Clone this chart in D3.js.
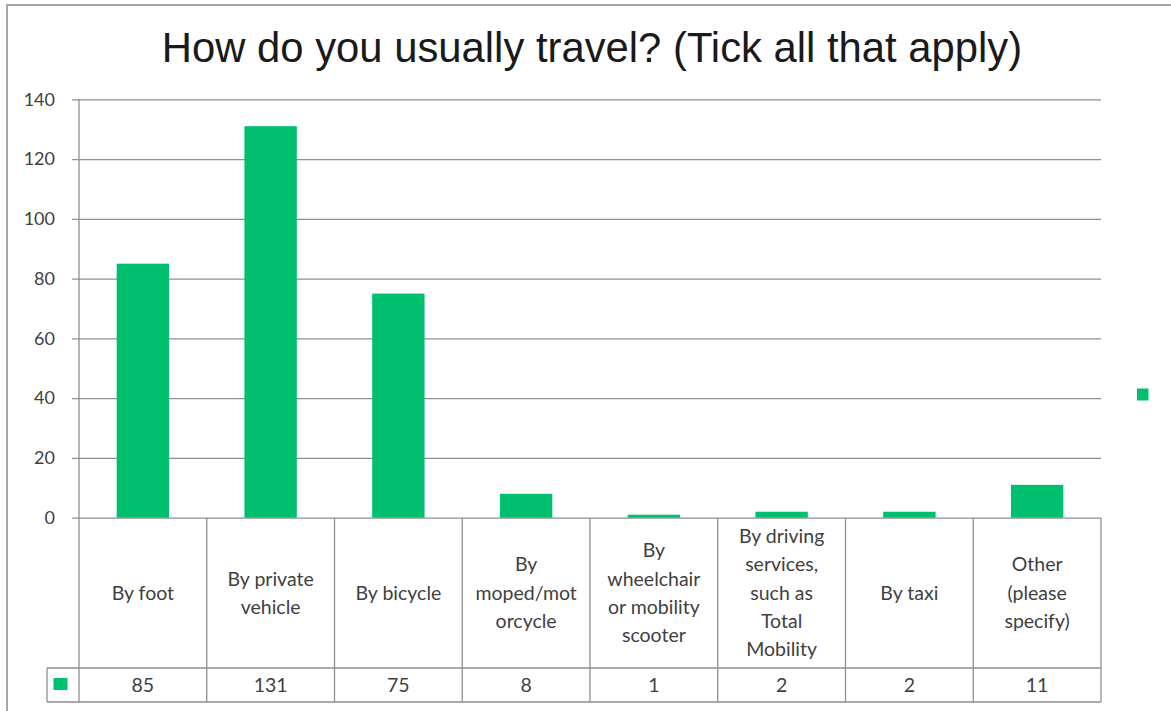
<!DOCTYPE html>
<html>
<head>
<meta charset="utf-8">
<script src="https://cdn.jsdelivr.net/npm/d3@7"></script>
<style>
  html, body { margin: 0; padding: 0; background: #fff; }
  svg { display: block; }
</style>
</head>
<body>
<svg id="chart" width="1171" height="711"></svg>
<script>
// Survey responses: how people usually travel (multiple answers allowed)
const title = "How do you usually travel? (Tick all that apply)";
const categories = [
  "By foot",
  "By private vehicle",
  "By bicycle",
  "By moped/motorcycle",
  "By wheelchair or mobility scooter",
  "By driving services, such as Total Mobility",
  "By taxi",
  "Other (please specify)"
];
// Wrapped label lines as shown in the data table
const categoryLines = [
  ["By foot"],
  ["By private", "vehicle"],
  ["By bicycle"],
  ["By", "moped/mot", "orcycle"],
  ["By", "wheelchair", "or mobility", "scooter"],
  ["By driving", "services,", "such as", "Total", "Mobility"],
  ["By taxi"],
  ["Other", "(please", "specify)"]
];
const responses = [85, 131, 75, 8, 1, 2, 2, 11];
const yTicks = [0, 20, 40, 60, 80, 100, 120, 140];

const svg = d3.select("#chart");
const barColor = "#00bf6f";
const lineColor = "#8f8f8f";
const textColor = "#3f3f3f";
const tableFont = "Lato, 'Open Sans', sans-serif";
const tableSize = 19.5;

const left = 79, right = 1101;
const catTop = 517.7, catBottom = 668, valBottom = 702;
const legendLeft = 47;

const x = d3.scaleBand().domain(categories).range([left, right]).padding(0);
const y = d3.scaleLinear().domain([0, 140]).range([517.7, 99.3]);

// Outer frame
svg.append("rect")
  .attr("x", 7).attr("y", 5).attr("width", 1200).attr("height", 800)
  .attr("fill", "none").attr("stroke", "#a6a6a6").attr("stroke-width", 2);

// Title
svg.append("text")
  .attr("x", 592).attr("y", 62)
  .attr("text-anchor", "middle")
  .attr("font-family", "'Liberation Sans', Arial, sans-serif")
  .attr("font-size", 41.8)
  .attr("fill", "#1a1a1a")
  .text(title);

// Gridlines and tick marks
const yAxis = d3.axisLeft(y).tickValues(yTicks).tickSize(-(right - left)).tickPadding(24);
const gy = svg.append("g").attr("transform", `translate(${left},0)`).call(yAxis);
gy.select(".domain").remove();
gy.selectAll(".tick line")
  .attr("x1", -7)
  .attr("stroke", lineColor).attr("stroke-width", 1.3);
gy.selectAll(".tick text")
  .attr("font-family", tableFont)
  .attr("font-size", 18)
  .attr("fill", textColor);

// Vertical axis line running through the table
svg.append("line")
  .attr("x1", left).attr("x2", left).attr("y1", y(140)).attr("y2", valBottom)
  .attr("stroke", lineColor).attr("stroke-width", 1.3);

// Bars
const barW = x.bandwidth() * 0.41;
svg.append("g").selectAll("rect")
  .data(categories)
  .join("rect")
  .attr("x", d => x(d) + (x.bandwidth() - barW) / 2)
  .attr("y", (d, i) => y(responses[i]))
  .attr("width", barW)
  .attr("height", (d, i) => y(0) - y(responses[i]))
  .attr("fill", barColor);

// Data table grid
const table = svg.append("g")
  .attr("stroke", lineColor).attr("stroke-width", 1.3);
categories.forEach(c => {
  table.append("line")
    .attr("x1", x(c) + x.bandwidth()).attr("x2", x(c) + x.bandwidth())
    .attr("y1", catTop).attr("y2", valBottom);
});
table.append("line").attr("x1", legendLeft).attr("x2", right).attr("y1", catBottom).attr("y2", catBottom);
table.append("line").attr("x1", legendLeft).attr("x2", right).attr("y1", valBottom).attr("y2", valBottom);
table.append("line").attr("x1", legendLeft).attr("x2", legendLeft).attr("y1", catBottom).attr("y2", valBottom);

// Category labels
const lineH = 28.3;
const catMid = (catTop + catBottom) / 2;
categories.forEach((c, i) => {
  const lines = categoryLines[i];
  const t = svg.append("text")
    .attr("text-anchor", "middle")
    .attr("font-family", tableFont)
    .attr("font-size", tableSize)
    .attr("fill", textColor);
  lines.forEach((ln, k) => {
    t.append("tspan")
      .attr("x", x(c) + x.bandwidth() / 2)
      .attr("y", catMid + (k - (lines.length - 1) / 2) * lineH)
      .attr("dy", "0.35em")
      .text(ln);
  });
});

// Value row
categories.forEach((c, i) => {
  svg.append("text")
    .attr("x", x(c) + x.bandwidth() / 2)
    .attr("y", (catBottom + valBottom) / 2)
    .attr("dy", "0.35em")
    .attr("text-anchor", "middle")
    .attr("font-family", tableFont)
    .attr("font-size", tableSize)
    .attr("fill", textColor)
    .text(responses[i]);
});

// Legend key in the table
svg.append("rect")
  .attr("x", 53.5).attr("y", 678).attr("width", 14).attr("height", 12)
  .attr("fill", barColor);

// Legend key at the right
svg.append("rect")
  .attr("x", 1137).attr("y", 388.5).attr("width", 11.5).attr("height", 12)
  .attr("fill", barColor);
</script>
</body>
</html>
